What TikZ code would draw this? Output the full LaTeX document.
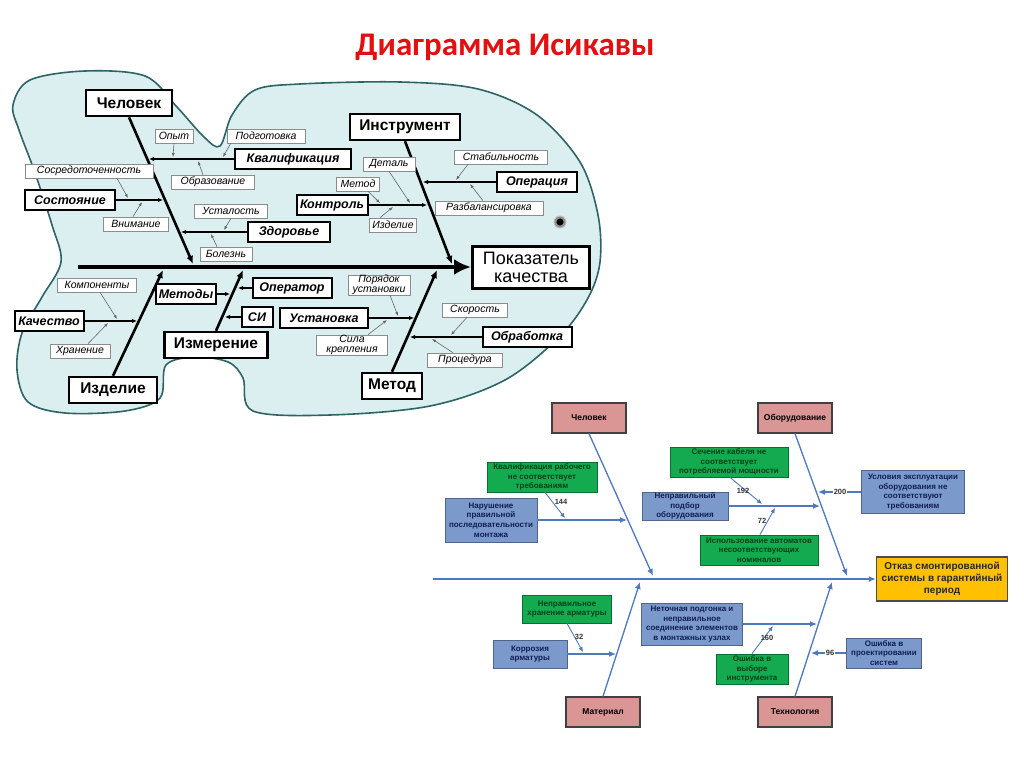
\documentclass[tikz,border=0pt]{standalone}
\usepackage{fontspec}
\setmainfont{Liberation Sans}
\newfontfamily\titlefont{Carlito}
\usetikzlibrary{arrows.meta}

\definecolor{fishfill}{RGB}{219,238,240}
\definecolor{fishline}{RGB}{45,100,100}
\definecolor{titlered}{RGB}{226,16,16}
\definecolor{pinkfill}{RGB}{217,150,148}
\definecolor{bluefill}{RGB}{124,153,204}
\definecolor{bluedraw}{RGB}{80,100,140}
\definecolor{navy}{RGB}{15,30,85}
\definecolor{greenfill}{RGB}{20,170,80}
\definecolor{greendraw}{RGB}{10,110,50}
\definecolor{greentext}{RGB}{0,65,25}
\definecolor{lineblue}{RGB}{79,120,189}
\definecolor{resultfill}{RGB}{255,192,0}

\tikzset{
  fishbody/.style={fill=fishfill, draw=fishline, line width=1.6pt},
  headbox/.style={draw, line width=2.4pt, fill=white, inner sep=0pt, minimum height=26pt,
    font=\fontsize{15.5}{17}\selectfont\bfseries},
  goalbox/.style={draw, line width=3pt, fill=white, inner sep=0pt, align=center,
    minimum width=117pt, minimum height=42pt, font=\fontsize{18}{18}\selectfont},
  causebox/.style={draw, line width=2pt, fill=white, inner sep=0pt, minimum height=20pt,
    font=\fontsize{12.5}{14}\selectfont\bfseries\itshape},
  notebox/.style={draw=black!45, line width=0.6pt, fill=white, inner sep=0pt, minimum height=14pt,
    align=center, font=\fontsize{10.5}{9.5}\selectfont\itshape},
  spine/.style={line width=4pt, -{Latex[length=17pt,width=16pt]}},
  bone/.style={line width=2.6pt, -{Latex[length=8pt,width=7pt]}},
  twig/.style={line width=1.8pt, -{Latex[length=5pt,width=4.5pt]}},
  hint/.style={draw=black!60, line width=0.6pt, -{Latex[length=4pt,width=3pt]}},
  catbox/.style={draw=black!75, line width=1.2pt, fill=pinkfill, inner sep=0pt,
    minimum width=74pt, minimum height=30pt, font=\fontsize{8.5}{10}\selectfont\bfseries},
  resultbox/.style={draw=black!70, line width=1.4pt, fill=resultfill, inner sep=0pt, align=center,
    minimum width=131pt, minimum height=44pt, text=black!85, font=\fontsize{10}{12}\selectfont\bfseries},
  bluebox/.style={draw=bluedraw, line width=0.8pt, fill=bluefill, inner sep=0pt, align=center,
    text=navy, font=\fontsize{8}{9.6}\selectfont\bfseries},
  greenbox/.style={draw=greendraw, line width=0.8pt, fill=greenfill, inner sep=0pt, align=center,
    text=greentext, font=\fontsize{8}{9.6}\selectfont\bfseries},
  flow/.style={draw=lineblue, line width=1.3pt, -{Latex[length=7pt,width=6pt]}},
  pointer/.style={draw=lineblue, line width=0.9pt, -{Latex[length=5pt,width=4.5pt]}},
  score/.style={inner sep=1pt, text=black!80, font=\fontsize{7.5}{8}\selectfont\bfseries},
}

\begin{document}
\begin{tikzpicture}[x=1pt, y=-1pt]
  \fill[white] (0,0) rectangle (1024,767);
  \useasboundingbox (0,0) rectangle (1024,767);

  \node[font=\titlefont\fontsize{33}{36}\selectfont\bfseries, text=titlered] (title) at (505,47) {Диаграмма Исикавы};

  % fish
  \filldraw[fishbody] plot[smooth cycle, tension=0.55] coordinates {
    (13,105) (30,80) (85,71) (145,76) (176,106) (204,137) (220,146) (232,115) (255,90)
    (300,84) (400,82) (478,89) (537,115) (580,162) (598,215) (600,262) (588,298)
    (560,336) (505,380) (430,406) (330,415) (253,411) (243,378) (228,362) (195,357)
    (166,365) (160,398) (125,411) (65,413) (28,402) (17,370) (22,333) (42,297)
    (61,262) (52,225) (34,170) (19,130)};
  \filldraw[fill=black!45, draw=black!25, line width=1pt] (560,222) circle (6pt);
  \fill[black] (560,222) circle (3.5pt);

  % head and main bones
  \node[goalbox] (hq) at (531,267) {Показатель\\качества};
  \node[headbox, minimum width=86pt] (man) at (129,103) {Человек};
  \node[headbox, minimum width=110pt] (tool) at (405,127) {Инструмент};
  \node[headbox, minimum width=88pt] (prod) at (113,390) {Изделие};
  \node[headbox, minimum width=103pt] (meas) at (216,345) {Измерение};
  \node[headbox, minimum width=60pt] (meth) at (392,386) {Метод};

  \coordinate (tail) at (78,267);
  \coordinate (man0) at (193,264);
  \coordinate (tool0) at (452,264);
  \coordinate (prod0) at (163,270);
  \coordinate (meas0) at (243,270);
  \coordinate (meth0) at (437,270);

  \draw[spine] (tail) -- (hq.west);
  \draw[bone] (man.south) -- (man0);
  \draw[bone] (tool.south) -- (tool0);
  \draw[bone] (prod.north) -- (prod0);
  \draw[bone] (meas.north) -- (meas0);
  \draw[bone] (meth.north) -- (meth0);

  % causes
  \node[causebox, minimum width=116pt] (qual) at (293,159) {Квалификация};
  \node[causebox, minimum width=90pt] (state) at (70,200) {Состояние};
  \node[causebox, minimum width=82pt] (health) at (289,232) {Здоровье};
  \node[causebox, minimum width=80pt] (oper) at (537,182) {Операция};
  \node[causebox, minimum width=71pt] (ctrl) at (332,205) {Контроль};
  \node[causebox, minimum width=69pt] (qlty) at (49,321) {Качество};
  \node[causebox, minimum width=60pt] (mtds) at (186,294) {Методы};
  \node[causebox, minimum width=79pt] (opr) at (292,288) {Оператор};
  \node[causebox, minimum width=31pt] (si) at (257,317) {СИ};
  \node[causebox, minimum width=88pt] (inst) at (324,318) {Установка};
  \node[causebox, minimum width=89pt] (proc) at (527,337) {Обработка};

  \coordinate (qual0) at (149,159);
  \coordinate (state0) at (163,200);
  \coordinate (health0) at (181,232);
  \coordinate (oper0) at (423,182);
  \coordinate (ctrl0) at (427,205);
  \coordinate (qlty0) at (137,321);
  \coordinate (mtds0) at (230,294);
  \coordinate (opr0) at (238,288);
  \coordinate (si0) at (225,317);
  \coordinate (inst0) at (414,318);
  \coordinate (proc0) at (410,337);

  \draw[twig] (qual.west) -- (qual0);
  \draw[twig] (state.east) -- (state0);
  \draw[twig] (health.west) -- (health0);
  \draw[twig] (oper.west) -- (oper0);
  \draw[twig] (ctrl.east) -- (ctrl0);
  \draw[twig] (qlty.east) -- (qlty0);
  \draw[twig] (mtds.east) -- (mtds0);
  \draw[twig] (opr.west) -- (opr0);
  \draw[twig] (si.west) -- (si0);
  \draw[twig] (inst.east) -- (inst0);
  \draw[twig] (proc.west) -- (proc0);

  % small notes
  \node[notebox, minimum width=38pt] (opyt) at (174,136) {Опыт};
  \node[notebox, minimum width=78pt] (prep) at (266,136) {Подготовка};
  \node[notebox, minimum width=83pt] (edu) at (213,182) {Образование};
  \node[notebox, minimum width=128pt] (conc) at (89,171) {Сосредоточенность};
  \node[notebox, minimum width=65pt] (attn) at (136,224) {Внимание};
  \node[notebox, minimum width=73pt] (tired) at (231,211) {Усталость};
  \node[notebox, minimum width=52pt] (ill) at (226,254) {Болезнь};
  \node[notebox, minimum width=93pt] (stab) at (501,157) {Стабильность};
  \node[notebox, minimum width=108pt] (imbal) at (489,208) {Разбалансировка};
  \node[notebox, minimum width=52pt] (detail) at (389,164) {Деталь};
  \node[notebox, minimum width=43pt] (meth2) at (358,184) {Метод};
  \node[notebox, minimum width=47pt] (item) at (393,225) {Изделие};
  \node[notebox, minimum width=79pt] (comp) at (97,285) {Компоненты};
  \node[notebox, minimum width=60pt] (store) at (80,351) {Хранение};
  \node[notebox, minimum width=62pt, minimum height=20pt] (order) at (379,285) {Порядок\\установки};
  \node[notebox, minimum width=71pt, minimum height=20pt] (force) at (352,345) {Сила\\крепления};
  \node[notebox, minimum width=65pt] (speed) at (475,310) {Скорость};
  \node[notebox, minimum width=75pt] (proc2) at (465,360) {Процедура};

  \coordinate (opyt1) at (173,157);
  \coordinate (prep1) at (223,157);
  \coordinate (edu1) at (198,161);
  \coordinate (conc1) at (128,198);
  \coordinate (attn1) at (142,202);
  \coordinate (tired1) at (224,230);
  \coordinate (ill1) at (211,234);
  \coordinate (stab1) at (456,180);
  \coordinate (imbal1) at (470,184);
  \coordinate (detail1) at (410,203);
  \coordinate (meth21) at (380,203);
  \coordinate (item1) at (393,207);
  \coordinate (comp1) at (117,319);
  \coordinate (store1) at (108,323);
  \coordinate (order1) at (398,316);
  \coordinate (force1) at (387,320);
  \coordinate (speed1) at (451,335);
  \coordinate (proc21) at (432,339);

  \draw[hint] (opyt.south) -- (opyt1);
  \draw[hint] ([xshift=4pt]prep.south west) -- (prep1);
  \draw[hint] ([xshift=-10pt]edu.north) -- (edu1);
  \draw[hint] ([xshift=28pt]conc.south) -- (conc1);
  \draw[hint] ([xshift=-3pt]attn.north) -- (attn1);
  \draw[hint] (tired.south) -- (tired1);
  \draw[hint] ([xshift=-9pt]ill.north) -- (ill1);
  \draw[hint] ([xshift=-33pt]stab.south) -- (stab1);
  \draw[hint] ([xshift=-6pt]imbal.north) -- (imbal1);
  \draw[hint] (detail.south) -- (detail1);
  \draw[hint] ([xshift=10pt]meth2.south) -- (meth21);
  \draw[hint] ([xshift=-13pt]item.north) -- (item1);
  \draw[hint] ([xshift=3pt]comp.south) -- (comp1);
  \draw[hint] ([xshift=8pt]store.north) -- (store1);
  \draw[hint] ([xshift=11pt]order.south) -- (order1);
  \draw[hint] ([xshift=16pt]force.north) -- (force1);
  \draw[hint] ([xshift=-8pt]speed.south) -- (speed1);
  \draw[hint] ([xshift=-12pt]proc2.north) -- (proc21);

  % second diagram
  \node[catbox] (bman) at (589,418) {Человек};
  \node[catbox] (beq) at (795,418) {Оборудование};
  \node[catbox] (bmat) at (603,712) {Материал};
  \node[catbox] (btech) at (795,712) {Технология};
  \node[resultbox] (bres) at (942,579) {Отказ смонтированной\\системы в гарантийный\\период};

  \coordinate (bstart) at (433,579);
  \coordinate (bman0) at (653,576);
  \coordinate (beq0) at (847,576);
  \coordinate (bmat0) at (640,582);
  \coordinate (btech0) at (832,582);

  \draw[flow] (bstart) -- (bres.west);
  \draw[flow] (bman.south) -- (bman0);
  \draw[flow] (beq.south) -- (beq0);
  \draw[flow] (bmat.north) -- (bmat0);
  \draw[flow] (btech.north) -- (btech0);

  \node[bluebox, minimum width=92pt, minimum height=44pt] (viol) at (491,520) {Нарушение\\правильной\\последовательности\\монтажа};
  \node[greenbox, minimum width=110pt, minimum height=30pt] (qualw) at (542,477) {Квалификация рабочего\\не соответствует\\требованиям};
  \node[bluebox, minimum width=86pt, minimum height=28pt] (wrong) at (685,506) {Неправильный\\подбор\\оборудования};
  \node[greenbox, minimum width=118pt, minimum height=30pt] (cable) at (729,462) {Сечение кабеля не\\соответствует\\потребляемой мощности};
  \node[greenbox, minimum width=118pt, minimum height=30pt] (auto) at (759,550) {Использование автоматов\\несоответствующих\\номиналов};
  \node[bluebox, minimum width=103pt, minimum height=43pt] (cond) at (913,492) {Условия эксплуатации\\оборудования не\\соответствуют\\требованиям};
  \node[bluebox, minimum width=74pt, minimum height=28pt] (corr) at (530,654) {Коррозия\\арматуры};
  \node[greenbox, minimum width=89pt, minimum height=28pt] (storew) at (567,609) {Неправильное\\хранение арматуры};
  \node[bluebox, minimum width=101pt, minimum height=42pt] (fit) at (692,624) {Неточная подгонка и\\неправильное\\соединение элементов\\в монтажных узлах};
  \node[greenbox, minimum width=72pt, minimum height=30pt] (toolw) at (752,669) {Ошибка в\\выборе\\инструмента};
  \node[bluebox, minimum width=75pt, minimum height=30pt] (proj) at (884,653) {Ошибка в\\проектировании\\систем};

  \coordinate (viol0) at (627,520);
  \coordinate (wrong0) at (820,506);
  \coordinate (cond0) at (818,492);
  \coordinate (corr0) at (616,654);
  \coordinate (fit0) at (817,624);
  \coordinate (proj0) at (811,653);
  \coordinate (qualw1) at (565,518);
  \coordinate (cable1) at (762,504);
  \coordinate (auto1) at (775,508);
  \coordinate (storew1) at (583,652);
  \coordinate (toolw1) at (773,626);

  \draw[flow] (viol.east) -- (viol0);
  \draw[flow] (wrong.east) -- (wrong0);
  \draw[flow] (cond.west) -- (cond0);
  \draw[flow] (corr.east) -- (corr0);
  \draw[flow] (fit.east) -- (fit0);
  \draw[flow] (proj.west) -- (proj0);

  \draw[pointer] ([xshift=3pt]qualw.south) -- (qualw1);
  \draw[pointer] ([xshift=1pt]cable.south) -- (cable1);
  \draw[pointer] ([xshift=1pt]auto.north) -- (auto1);
  \draw[pointer] (storew.south) -- (storew1);
  \draw[pointer] (toolw.north) -- (toolw1);

  \node[score] (n144) at (561,502) {144};
  \node[score] (n192) at (743,491) {192};
  \node[score] (n72) at (762,521) {72};
  \node[score, fill=white] (n200) at (840,492) {200};
  \node[score] (n32) at (579,637) {32};
  \node[score] (n160) at (767,638) {160};
  \node[score, fill=white] (n96) at (830,653) {96};
\end{tikzpicture}
\end{document}
